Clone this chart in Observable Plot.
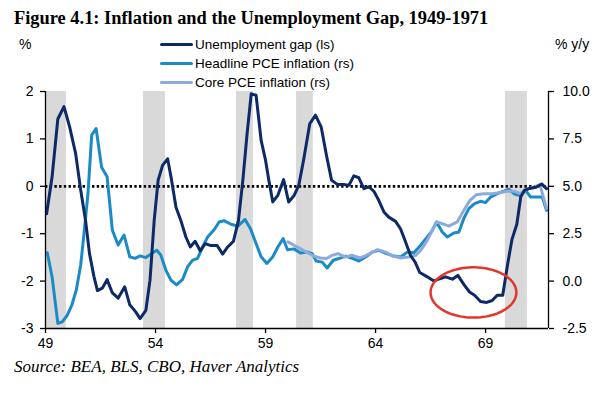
<!DOCTYPE html>
<html>
<head>
<meta charset="utf-8">
<script src="https://cdn.jsdelivr.net/npm/d3@7"></script>
<script src="https://cdn.jsdelivr.net/npm/@observablehq/plot@0.6"></script>
<style>
  html, body { margin: 0; padding: 0; background: #fff; }
  #wrap { position: relative; width: 614px; height: 394px; overflow: hidden; background: #fff; }
  #chart { position: absolute; left: 0; top: 0; }
  .txt { position: absolute; white-space: nowrap; color: #000; }
  #title { left: 14px; top: 9px; font-family: "Liberation Serif", "Times New Roman", serif; font-weight: bold; font-size: 18.4px; line-height: 18px; }
  #lunit { left: 19px; top: 36px; font-family: "Liberation Sans", Arial, sans-serif; font-size: 14px; line-height: 16px; }
  #runit { left: 555px; top: 36px; font-family: "Liberation Sans", Arial, sans-serif; font-size: 14px; line-height: 16px; }
  #source { left: 14px; top: 358px; font-family: "Liberation Serif", "Times New Roman", serif; font-style: italic; font-size: 17px; line-height: 18px; }
  #legend { position: absolute; left: 160px; top: 35px; font-family: "Liberation Sans", Arial, sans-serif; font-size: 13.5px; }
  .item { display: flex; align-items: center; height: 19px; }
  .sw { width: 33px; height: 3.5px; margin-right: 2px; border-radius: 2px; }
</style>
</head>
<body>
<div id="wrap">
  <div id="chart"></div>
  <div class="txt" id="title">Figure 4.1: Inflation and the Unemployment Gap, 1949-1971</div>
  <div class="txt" id="lunit">%</div>
  <div class="txt" id="runit">% y/y</div>
  <div id="legend"></div>
  <div class="txt" id="source">Source: BEA, BLS, CBO, Haver Analytics</div>
</div>
<script>
// ---- data (years as 2-digit fractional years, 19xx) ----
const gapT = [49.05,49.3,49.56,49.84,50.1,50.37,50.6,50.82,51.0,51.2,51.36,51.58,51.8,52.04,52.3,52.6,52.83,53.1,53.3,53.56,53.75,53.94,54.12,54.32,54.55,54.73,54.93,55.15,55.38,55.58,55.8,56.03,56.26,56.52,56.8,57.05,57.28,57.54,57.77,57.97,58.16,58.35,58.57,58.8,59.0,59.15,59.33,59.56,59.82,60.05,60.29,60.51,60.74,61.01,61.27,61.53,61.77,62.0,62.26,62.56,62.79,63.01,63.24,63.47,63.7,63.93,64.15,64.38,64.6,64.91,65.14,65.36,65.59,65.8,66.01,66.35,66.65,66.92,67.18,67.49,67.74,68.01,68.27,68.5,68.77,69.05,69.3,69.53,69.78,70.0,70.2,70.42,70.6,70.78,71.05,71.3,71.55,71.77];
const gapV = [-0.58,0.2,1.42,1.68,1.25,0.69,-0.08,-0.72,-1.42,-1.9,-2.2,-2.15,-1.97,-2.25,-2.36,-2.12,-2.5,-2.65,-2.79,-2.62,-1.98,-0.72,0.13,0.44,0.58,0.13,-0.44,-0.72,-1.07,-1.28,-1.16,-1.36,-1.21,-1.25,-1.25,-1.43,-1.28,-1.16,-0.72,0.13,1.1,1.95,1.92,0.97,0.55,0.13,-0.33,-0.19,0.14,-0.33,-0.2,0.02,0.58,1.32,1.5,1.25,0.65,0.13,0.04,0.04,0.02,0.22,0.18,-0.05,-0.01,-0.11,-0.3,-0.54,-0.65,-0.74,-0.9,-1.17,-1.46,-1.6,-1.82,-1.91,-2.0,-1.95,-1.91,-1.96,-1.88,-2.07,-2.23,-2.3,-2.43,-2.45,-2.41,-2.3,-2.3,-1.65,-1.12,-0.8,-0.22,-0.08,-0.04,-0.02,0.05,-0.05];

const headT = [49.08,49.3,49.56,49.76,49.99,50.2,50.4,50.6,50.78,50.93,51.1,51.3,51.55,51.8,52.04,52.3,52.57,52.83,53.07,53.3,53.56,53.82,54.06,54.24,54.47,54.7,54.96,55.23,55.46,55.69,55.91,56.14,56.37,56.67,56.9,57.13,57.43,57.74,58.07,58.31,58.57,58.8,59.06,59.33,59.56,59.8,60.0,60.29,60.59,60.9,61.12,61.3,61.58,61.8,62.08,62.33,62.64,62.9,63.24,63.55,63.85,64.15,64.5,64.83,65.14,65.44,65.74,66.05,66.35,66.58,66.77,67.03,67.26,67.56,67.79,68.01,68.24,68.5,68.77,69.0,69.23,69.53,69.83,70.06,70.29,70.51,70.82,71.05,71.35,71.58,71.77];
const headR = [1.5,0.22,-2.23,-2.15,-1.8,-1.25,-0.47,0.85,2.85,4.62,7.7,8.05,6.0,5.5,2.68,1.9,2.43,1.28,1.2,1.33,1.24,1.45,1.63,1.37,0.58,0.05,-0.2,0.09,0.76,1.11,1.2,1.8,2.33,2.72,3.13,3.18,3.0,2.9,3.25,2.78,1.98,1.28,0.93,1.28,1.8,2.24,1.65,1.7,1.48,1.53,1.45,1.06,1.0,0.69,1.1,1.19,1.32,1.22,1.06,1.27,1.53,1.62,1.45,1.32,1.27,1.53,1.5,1.89,2.33,2.68,3.12,2.59,2.33,2.54,2.59,3.3,3.82,4.09,4.21,4.14,4.43,4.61,4.74,4.84,4.61,4.53,4.79,4.43,4.43,4.43,3.73];

const coreT = [60.02,60.29,60.59,60.9,61.2,61.5,61.77,62.03,62.29,62.64,62.94,63.29,63.59,63.85,64.1,64.45,64.8,65.14,65.51,65.82,66.05,66.35,66.58,66.77,67.03,67.33,67.71,68.01,68.29,68.59,68.92,69.3,69.68,69.98,70.29,70.59,70.86,71.2,71.47,71.77];
const coreR = [2.07,1.89,1.71,1.5,1.31,1.22,1.19,1.36,1.45,1.27,1.36,1.22,1.36,1.53,1.66,1.53,1.32,1.22,1.27,1.36,1.62,2.15,2.68,3.12,3.03,2.9,3.12,3.73,4.26,4.56,4.61,4.61,4.67,4.74,4.74,4.61,4.84,4.96,5.09,3.82];

const recStart = [48.9, 53.45, 57.68, 60.41, 69.9];
const recEnd   = [49.95, 54.45, 58.45, 61.17, 70.9];

const xDomain = [49, 71.86];
const yDomain = [-3, 2];
const xTicks = [49, 54, 59, 64, 69];
const leftTicks = [-3, -2, -1, 0, 1, 2];
const rightTickLabels = ["-2.5", "0.0", "2.5", "5.0", "7.5", "10.0"];

// highlight ellipse (centre and radii in data units: years, ls %)
const ellCenter = [68.45, -2.24];
const ellRadius = [1.95, 0.53];

const seriesNames = ["Unemployment gap (ls)", "Headline PCE inflation (rs)", "Core PCE inflation (rs)"];
const seriesColors = ["#0d2a68", "#1a8bc6", "#8eaadc"];

// ---- build tables ----
const gap = gapT.map((t, i) => ({t, v: gapV[i]}));
const head = headT.map((t, i) => ({t, r: headR[i]}));
const core = coreT.map((t, i) => ({t, r: coreR[i]}));
const recessions = recStart.map((s, i) => ({s, e: recEnd[i]}));
const rsToLs = r => (r - 5) / 2.5;
const ellipse = d3.range(0, 361, 4).map(a => ({
  x: ellCenter[0] + ellRadius[0] * Math.cos(a * Math.PI / 180),
  y: ellCenter[1] + ellRadius[1] * Math.sin(a * Math.PI / 180)
}));

const chart = Plot.plot({
  width: 614,
  height: 394,
  marginTop: 91,
  marginBottom: 66,
  marginLeft: 45,
  marginRight: 66,
  x: {domain: xDomain},
  y: {domain: yDomain},
  style: {fontFamily: "'Liberation Sans', Arial, sans-serif", fontSize: "14px", color: "#000", background: "transparent"},
  marks: [
    Plot.rect(recessions, {x1: "s", x2: "e", fill: "#d9d9d9", clip: true}),
    Plot.ruleY([0], {stroke: "#000", strokeWidth: 2.7, strokeDasharray: "2.4 2.3"}),
    Plot.line(head, {x: "t", y: d => rsToLs(d.r), stroke: seriesColors[1], strokeWidth: 3}),
    Plot.line(core, {x: "t", y: d => rsToLs(d.r), stroke: seriesColors[2], strokeWidth: 3}),
    Plot.line(gap, {x: "t", y: "v", stroke: seriesColors[0], strokeWidth: 3}),
    Plot.line(ellipse, {x: "x", y: "y", stroke: "#e2362c", strokeWidth: 2.5}),
    Plot.ruleX([xDomain[0]], {stroke: "#000", strokeWidth: 1.3}),
    Plot.ruleX([xDomain[1]], {stroke: "#000", strokeWidth: 1.3}),
    Plot.ruleY([yDomain[0]], {stroke: "#000", strokeWidth: 1.3}),
    Plot.axisY({anchor: "left", ticks: leftTicks, tickSize: 5, tickPadding: 7, label: null, tickFormat: d => String(d), strokeWidth: 1.3}),
    Plot.axisY({anchor: "right", ticks: leftTicks, tickSize: 5, tickPadding: 9, label: null, tickFormat: d => rightTickLabels[leftTicks.indexOf(d)], strokeWidth: 1.3}),
    Plot.axisX({ticks: xTicks, tickSize: 5, tickPadding: 5, label: null, tickFormat: d => String(d), strokeWidth: 1.3})
  ]
});
document.getElementById("chart").appendChild(chart);

// legend
const legend = document.getElementById("legend");
seriesNames.forEach((n, i) => {
  const row = document.createElement("div");
  row.className = "item";
  const sw = document.createElement("div");
  sw.className = "sw";
  sw.style.background = seriesColors[i];
  const lab = document.createElement("span");
  lab.textContent = n;
  row.appendChild(sw);
  row.appendChild(lab);
  legend.appendChild(row);
});
</script>
</body>
</html>
